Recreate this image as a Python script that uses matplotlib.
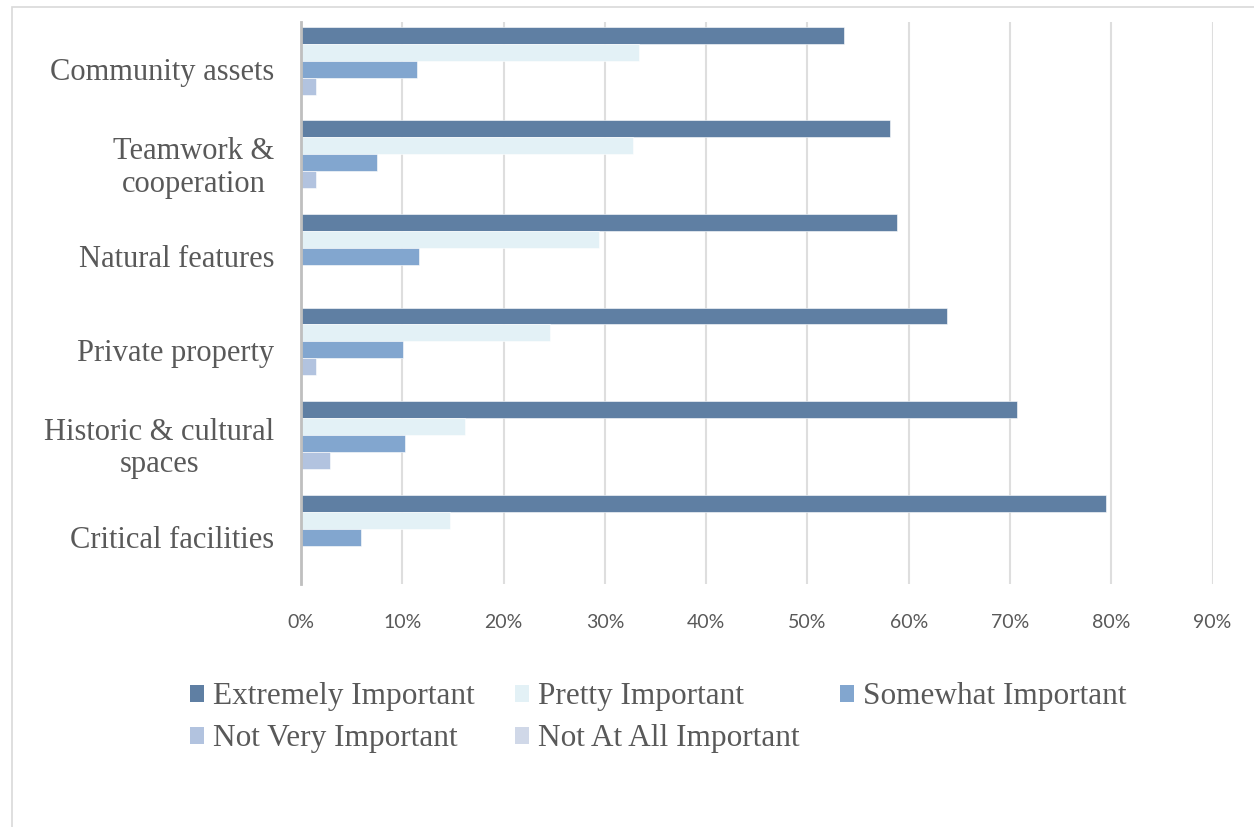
import matplotlib.pyplot as plt
from matplotlib.patches import Patch, Rectangle
from matplotlib.ticker import FuncFormatter
import numpy as np

categories = [
    "Community assets",
    "Teamwork &\ncooperation",
    "Natural features",
    "Private property",
    "Historic & cultural\nspaces",
    "Critical facilities",
]
series_names = [
    "Extremely Important",
    "Pretty Important",
    "Somewhat Important",
    "Not Very Important",
    "Not At All Important",
]
extremely = [53.6, 58.2, 58.8, 63.8, 70.7, 79.5]
pretty = [33.4, 32.8, 29.4, 24.6, 16.2, 14.7]
somewhat = [11.5, 7.5, 11.7, 10.1, 10.3, 5.9]
not_very = [1.5, 1.5, 0.0, 1.5, 2.9, 0.0]
not_at_all = [0.0, 0.0, 0.0, 0.0, 0.0, 0.0]
xticks = [0, 10, 20, 30, 40, 50, 60, 70, 80, 90]

colors = ["#5f7fa3", "#e3f1f6", "#82a6cf", "#b2c3df", "#d0d8e8"]
text_grey = "#595959"
serif = ["Liberation Serif", "DejaVu Serif"]

fig = plt.figure(figsize=(12.54, 8.27), dpi=100)
ax = fig.add_axes([0.240, 0.294, 0.727, 0.679])

# chart frame (right and bottom edges fall outside the canvas)
fig.patches.append(Rectangle((12 / 1254, -0.05), 1.2, 1 - 7 / 827 + 0.05,
                             transform=fig.transFigure, fill=False,
                             edgecolor="#d9d9d9", linewidth=1.2, zorder=0))

values = [extremely, pretty, somewhat, not_very, not_at_all]
n = len(values)
h = 0.181
y = np.arange(len(categories))
for j, (vals, name, c) in enumerate(zip(values, series_names, colors)):
    ax.barh(y + (j - (n - 1) / 2) * h, vals, height=h, color=c,
            edgecolor="white", linewidth=0.4, label=name, zorder=3)

ax.set_ylim(len(categories) - 0.5, -0.5)
ax.set_xlim(0, 90)
ax.set_xticks(xticks)
ax.xaxis.set_major_formatter(FuncFormatter(lambda v, _: f"{v:.0f}%"))
ax.set_yticks(y)
ax.set_yticklabels(categories, family=serif, fontsize=22, color=text_grey,
                   linespacing=1.15)
for lab in ax.get_yticklabels():
    lab.set_multialignment("center")
ax.tick_params(axis="y", length=0, pad=19)
ax.tick_params(axis="x", length=0, pad=22, labelsize=14, labelcolor=text_grey)
for lab in ax.get_xticklabels():
    lab.set_family(["Lato", "DejaVu Sans"])

ax.grid(axis="x", color="#dedede", linewidth=1.5, zorder=0)
for s in ["top", "right", "bottom"]:
    ax.spines[s].set_visible(False)
ax.spines["left"].set_color("#bfbfbf")
ax.spines["left"].set_linewidth(2)
ax.spines["left"].set_zorder(4)

handles = [Patch(facecolor=c, edgecolor="none") for c in colors]
order = [0, 3, 1, 4, 2]
fig.legend([handles[i] for i in order], [series_names[i] for i in order],
           ncol=3, loc="upper left", bbox_to_anchor=(0.1515, 0.175),
           frameon=False, prop={"family": serif, "size": 22.5},
           labelcolor=text_grey, handlelength=0.45, handleheight=0.45,
           handletextpad=0.28, columnspacing=1.3, labelspacing=0.42,
           borderpad=0, borderaxespad=0)

fig.savefig("out.png", dpi=100)
